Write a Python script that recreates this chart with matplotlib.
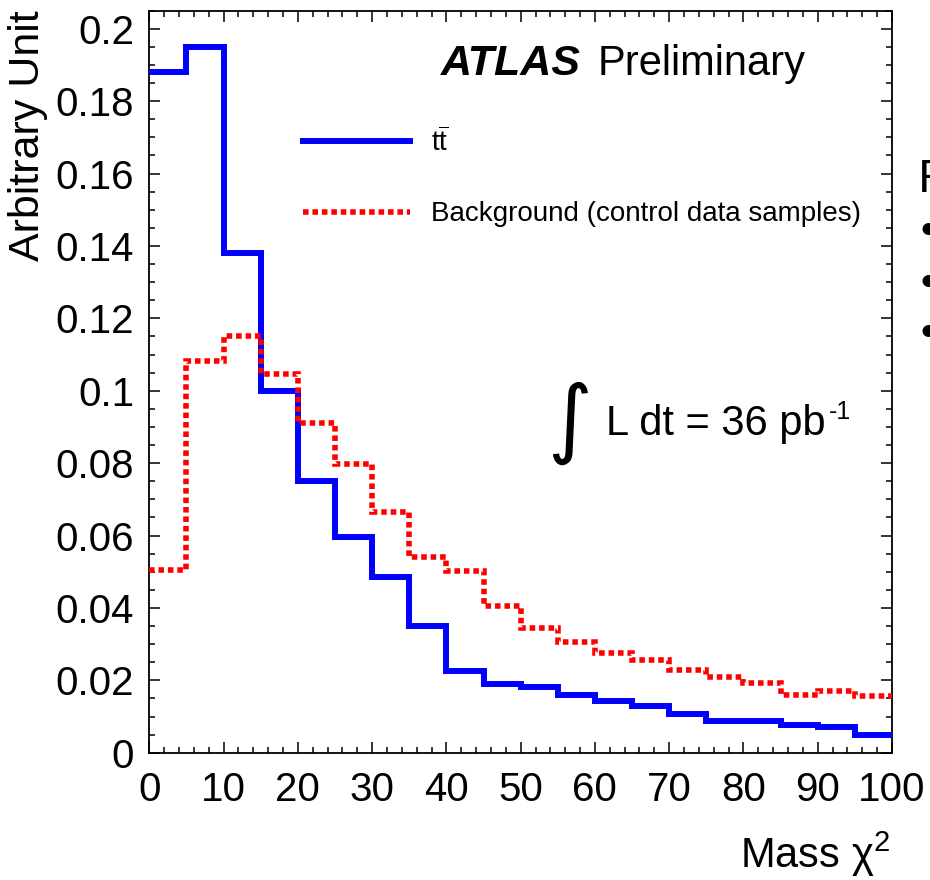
import matplotlib
matplotlib.use('Agg')
import matplotlib.pyplot as plt
import numpy as np
from matplotlib.ticker import MultipleLocator, FuncFormatter
from matplotlib.lines import Line2D

# ---------------- data ----------------
bin_edges = np.arange(0, 105, 5)
ttbar = [0.188, 0.195, 0.138, 0.100, 0.075, 0.0596, 0.0485, 0.035, 0.0226, 0.019,
         0.0182, 0.0159, 0.0143, 0.0129, 0.0108, 0.0087, 0.0087, 0.0077, 0.0071, 0.0049]
background = [0.0506, 0.1083, 0.115, 0.1045, 0.0911, 0.0797, 0.0664, 0.0541, 0.0503, 0.0405,
              0.0344, 0.0307, 0.0275, 0.0256, 0.0229, 0.021, 0.0192, 0.0159, 0.017, 0.0157]
series_labels = [r'$\mathrm{t\overline{t}}$', 'Background (control data samples)']
x_label = r'Mass $\mathrm{\chi}^{2}$'
y_label = 'Arbitrary Unit'

plt.rcParams['font.family'] = ['Liberation Sans', 'DejaVu Sans']
plt.rcParams['mathtext.fontset'] = 'custom'
plt.rcParams['mathtext.rm'] = 'Liberation Sans'
plt.rcParams['mathtext.it'] = 'Liberation Sans:italic'
plt.rcParams['mathtext.bf'] = 'Liberation Sans:bold'

W, H = 930, 880
fig = plt.figure(figsize=(W / 100, H / 100), dpi=100)
fig.patch.set_facecolor('white')

def fx(px):
    return px / W

def fy(py):
    return 1 - py / H

ax = fig.add_axes([fx(149.3), fy(752.7), fx(892) - fx(149.3), fy(10.7) - fy(752.7)])
ax.set_xlim(0, 100)
ax.set_ylim(0, 0.205)

blue_style = dict(color='#0000ff', linewidth=4.3)
red_style = dict(color='#ff0000', linewidth=4.0, linestyle=(0, (1.0, 0.7)))

ax.stairs(ttbar, bin_edges, baseline=None, zorder=3, joinstyle='miter', **blue_style)
ax.stairs(background, bin_edges, baseline=None, zorder=4, **red_style)

for sp in ax.spines.values():
    sp.set_linewidth(1.3)
    sp.set_color('black')

ax.xaxis.set_major_locator(MultipleLocator(10))
ax.xaxis.set_minor_locator(MultipleLocator(2))
ax.yaxis.set_major_locator(MultipleLocator(0.02))
ax.yaxis.set_minor_locator(MultipleLocator(0.005))
ax.yaxis.set_major_formatter(FuncFormatter(lambda v, p: '%g' % round(v, 4)))
ax.tick_params(which='both', direction='in', top=True, right=True, width=1.1, color='black')
ax.tick_params(which='major', length=8)
ax.tick_params(which='minor', length=4.5)
ax.tick_params(axis='x', which='major', labelsize=29, pad=13)
ax.tick_params(axis='y', which='major', labelsize=29, pad=11)

# axis titles (ROOT style, aligned at the ends)
fig.text(fx(890), fy(868), x_label, ha='right', va='baseline', fontsize=30)
fig.text(fx(8), fy(10), y_label, ha='left', va='top', rotation=90, fontsize=31)

# legend
handles = [Line2D([], [], **blue_style), Line2D([], [], **red_style)]
leg = ax.legend(handles, series_labels, loc='upper left',
                bbox_to_anchor=(fx(303), fy(127)), bbox_transform=fig.transFigure,
                frameon=False, fontsize=20, handlelength=3.85, handletextpad=0.75,
                borderpad=0, borderaxespad=0, labelspacing=1.6)

# ATLAS label
fig.text(fx(441), fy(75), 'ATLAS', fontsize=31, fontweight='bold', fontstyle='italic',
         ha='left', va='baseline')
fig.text(fx(598), fy(75), 'Preliminary', fontsize=30, ha='left', va='baseline')

# luminosity
fig.text(fx(570), fy(423), '\u222b', fontsize=62, family='DejaVu Sans',
         ha='center', va='center')
lumi = fig.text(fx(606), fy(435), 'L dt = 36 pb', fontsize=30, ha='left', va='baseline')
ax.annotate('-1', xy=(1, 1), xycoords=lumi, xytext=(2, 3), textcoords='offset points',
            ha='left', va='top', fontsize=18)

# cropped slide text on the right edge
fig.text(fx(918), fy(192), 'F', fontsize=32, family='Lato', ha='left', va='baseline')
for yb in (230, 282, 332):
    fig.text(fx(918), fy(yb), '\u2022', fontsize=24, family='Lato', ha='left', va='center')

fig.savefig('out.png', dpi=100, facecolor='white')
